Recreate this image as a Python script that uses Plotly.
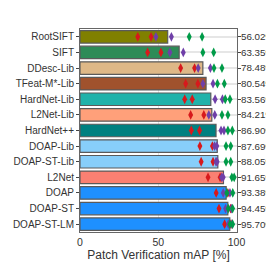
import plotly.graph_objects as go

methods = ["RootSIFT", "SIFT", "DDesc-Lib", "TFeat-M*-Lib", "HardNet-Lib", "L2Net-Lib",
           "HardNet++", "DOAP-Lib", "DOAP-ST-Lib", "L2Net", "DOAP", "DOAP-ST", "DOAP-ST-LM"]
mean_map = [56.02, 63.35, 78.48, 80.54, 83.56, 84.21, 86.90, 87.69, 88.05, 91.65, 93.38, 94.45, 95.70]
bar_colors = ["#808000", "#2E8B57", "#DEB887", "#A0522D", "#20B2AA", "#FFA07A",
              "#008080", "#87CEFA", "#87CEFA", "#FA8072", "#1E90FF", "#1E90FF", "#1E90FF"]

# per-split values (tough = red, hard = purple, easy = green), two each
red_a = [36.9, 43.2, 64.3, 67.5, 66.9, 70.7, 71.1, 76.6, 77.4, 81.8, 87.0, 88.8, 92.4]
red_b = [45.4, 51.7, 73.2, 75.3, 71.7, 79.1, 76.4, 84.6, 85.0, 89.5, 94.5, 96.2, 96.5]
purple_a = [48.5, 57.4, 75.5, 78.5, 86.3, 82.3, 90.1, 86.0, 86.9, 90.5, 91.5, 93.0, 94.8]
purple_b = [58.4, 66.0, 83.3, 85.0, 91.0, 86.1, 92.0, 87.4, 87.6, 91.5, 95.8, 96.8, 97.2]
green_a = [69.8, 78.5, 85.6, 87.8, 92.8, 90.7, 94.5, 93.3, 93.3, 97.0, 93.8, 94.7, 95.8]
green_b = [78.0, 85.4, 90.7, 92.2, 95.8, 94.5, 97.3, 96.3, 96.3, 98.5, 97.6, 97.5, 97.5]

pct_labels = [f"{v:.2f}%" for v in mean_map]

FONT = "Liberation Sans, Arial, sans-serif"
TXT = "#333333"
n = len(methods)

fig = go.Figure()
fig.add_trace(go.Bar(
    x=mean_map, y=methods, orientation="h",
    marker=dict(color=bar_colors, line=dict(color="#5a5a5a", width=1.2)),
    width=0.8, showlegend=False, hoverinfo="x+y",
))

for vals, col in [(red_a, "#d7191c"), (red_b, "#d7191c"),
                  (purple_a, "#6f3fa8"), (purple_b, "#6f3fa8"),
                  (green_a, "#009b48"), (green_b, "#009b48")]:
    fig.add_trace(go.Scatter(
        x=vals, y=methods, mode="markers",
        marker=dict(symbol="diamond-tall", size=7, color=col, line=dict(width=0)),
        showlegend=False, cliponaxis=False,
    ))

# invisible trace for right-side labels
fig.add_trace(go.Scatter(x=mean_map, y=methods, yaxis="y2", mode="markers",
                         marker=dict(opacity=0), showlegend=False, hoverinfo="skip"))

fig.update_layout(
    width=266, height=266,
    margin=dict(l=72, r=37, t=21, b=42, autoexpand=False),
    plot_bgcolor="white", paper_bgcolor="white",
    font=dict(family=FONT, size=10, color=TXT),
    xaxis=dict(
        range=[0, 100.3], tickvals=[0, 50, 100],
        showgrid=True, gridcolor="#e3e3e3", gridwidth=1,
        showline=True, linecolor="#666", linewidth=1, mirror=True,
        ticks="", zeroline=False, automargin=False,
        title=dict(text="Patch Verification mAP [%]", font=dict(size=12, family=FONT, color=TXT), standoff=2),
        tickfont=dict(size=10.5, family=FONT, color=TXT),
    ),
    yaxis=dict(
        categoryorder="array", categoryarray=methods, range=[n - 0.5, -0.5],
        showgrid=True, gridcolor="#e6e6e6", gridwidth=2,
        showline=True, linecolor="#666", linewidth=1,
        ticks="outside", ticklen=3, tickcolor="#444", automargin=False,
        tickfont=dict(size=10, family=FONT, color=TXT),
    ),
    yaxis2=dict(
        overlaying="y", side="right", matches="y",
        categoryorder="array", categoryarray=methods,
        tickmode="array", tickvals=methods, ticktext=pct_labels,
        showgrid=False, showline=True, linecolor="#666", linewidth=1,
        ticks="outside", ticklen=3, tickcolor="#444", automargin=False,
        ticklabelstandoff=-2,
        tickfont=dict(size=9.8, family=FONT, color=TXT),
    ),
)

fig.write_html("out.html")
